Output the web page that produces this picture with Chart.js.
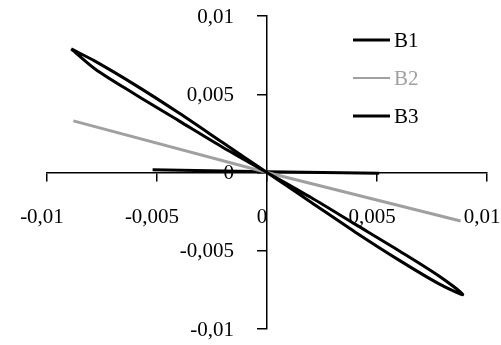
<!DOCTYPE html>
<html>
<head>
<meta charset="utf-8">
<script src="https://cdn.jsdelivr.net/npm/chart.js@4/dist/chart.umd.min.js"></script>
<style>
  html, body { margin: 0; padding: 0; background: #fff; }
  #wrap { width: 501px; height: 345px; }
</style>
</head>
<body>
<div id="wrap"><canvas id="chart" width="501" height="345"></canvas></div>
<script>
// series names
const seriesNames = ["B1", "B2", "B3"];
const seriesColors = ["#000000", "#a0a0a0", "#000000"];

// B1: narrow pinched loop
const b1X = [-0.0089, -0.0078, -0.006, -0.004, -0.002, 0, 0.002, 0.004, 0.006, 0.0078, 0.0089,
             0.0078, 0.006, 0.004, 0.002, 0, -0.002, -0.004, -0.006, -0.0078, -0.0089];
const b1Y = [0.0079, 0.0071, 0.0056, 0.0038, 0.0019, 0, -0.0019, -0.0038, -0.0056, -0.0071, -0.0078,
             -0.0066, -0.0050, -0.0033, -0.0016, 0, 0.0016, 0.0033, 0.0050, 0.0066, 0.0079];

// B2: grey line
const b2X = [-0.0088, 0, 0.0088];
const b2Y = [0.0033, 0, -0.0031];

// B3: almost flat line along the x axis
const b3X = [-0.0052, 0, 0.0051];
const b3Y = [0.00018, 0.00005, -0.00005];

// axis ticks
const tickValues = [-0.01, -0.005, 0, 0.005, 0.01];

const toPoints = (xs, ys) => xs.map((x, i) => ({ x, y: ys[i] }));
const fmt = v => String(Number(v.toFixed(4))).replace(".", ",");

const FONT = { family: "'Liberation Serif', 'Times New Roman', serif", size: 21 };

// axes sit in the middle, so their label overhang should not shrink the plot
const noPadding = axis => {
  axis.paddingLeft = 0;
  axis.paddingRight = 0;
  axis.paddingTop = 0;
  axis.paddingBottom = 0;
};

// y tick labels, left of the centred y axis
const yLabelsPlugin = {
  id: "yLabels",
  afterDraw(chart) {
    const c = chart.ctx;
    const ys = chart.scales.y;
    const axisX = chart.scales.x.getPixelForValue(0);
    c.save();
    c.font = `${FONT.size}px ${FONT.family}`;
    c.fillStyle = "#000";
    c.textAlign = "right";
    c.textBaseline = "middle";
    ys.ticks.forEach(t => {
      c.fillText(fmt(t.value), axisX - 33, ys.getPixelForValue(t.value) + 1);
    });
    c.restore();
  }
};

const legendPlugin = {
  id: "sideLegend",
  afterDraw(chart) {
    const c = chart.ctx;
    const rows = [40, 78, 116];
    c.save();
    c.font = `${FONT.size}px ${FONT.family}`;
    c.textBaseline = "middle";
    chart.data.datasets.forEach((ds, i) => {
      c.strokeStyle = ds.borderColor;
      c.lineWidth = i === 1 ? 2 : 3;
      c.beginPath();
      c.moveTo(353, rows[i]);
      c.lineTo(390, rows[i]);
      c.stroke();
      c.fillStyle = ds.borderColor;
      c.fillText(ds.label, 394, rows[i] + 1);
    });
    c.restore();
  }
};

new Chart(document.getElementById("chart"), {
  type: "scatter",
  data: {
    datasets: [
      {
        label: seriesNames[0],
        data: toPoints(b1X, b1Y),
        borderColor: seriesColors[0],
        borderWidth: 3,
        showLine: true,
        tension: 0.3,
        pointRadius: 0,
      },
      {
        label: seriesNames[1],
        data: toPoints(b2X, b2Y),
        borderColor: seriesColors[1],
        borderWidth: 3,
        showLine: true,
        pointRadius: 0,
      },
      {
        label: seriesNames[2],
        data: toPoints(b3X, b3Y),
        borderColor: seriesColors[2],
        borderWidth: 3,
        showLine: true,
        pointRadius: 0,
      },
    ],
  },
  options: {
    responsive: false,
    animation: false,
    layout: { padding: { left: 47, right: 14, top: 16, bottom: 16 } },
    plugins: { legend: { display: false }, tooltip: { enabled: false } },
    scales: {
      x: {
        type: "linear",
        min: -0.01,
        max: 0.01,
        position: { y: 0 },
        afterBuildTicks: axis => { axis.ticks = tickValues.map(v => ({ value: v })); },
        afterFit: noPadding,
        grid: { drawOnChartArea: false, drawTicks: true, tickLength: 8, color: "#000", lineWidth: 1.5 },
        border: { display: true, color: "#000", width: 1.5 },
        ticks: { color: "#000", font: FONT, padding: 24, labelOffset: -5, maxRotation: 0, callback: v => fmt(v) },
      },
      y: {
        type: "linear",
        min: -0.01,
        max: 0.01,
        position: { x: 0 },
        afterBuildTicks: axis => { axis.ticks = tickValues.map(v => ({ value: v })); },
        afterFit: noPadding,
        grid: { drawOnChartArea: false, drawTicks: true, tickLength: 9, color: "#000", lineWidth: 1.5 },
        border: { display: true, color: "#000", width: 1.5 },
        ticks: { display: false },
      },
    },
  },
  plugins: [yLabelsPlugin, legendPlugin],
});
</script>
</body>
</html>
